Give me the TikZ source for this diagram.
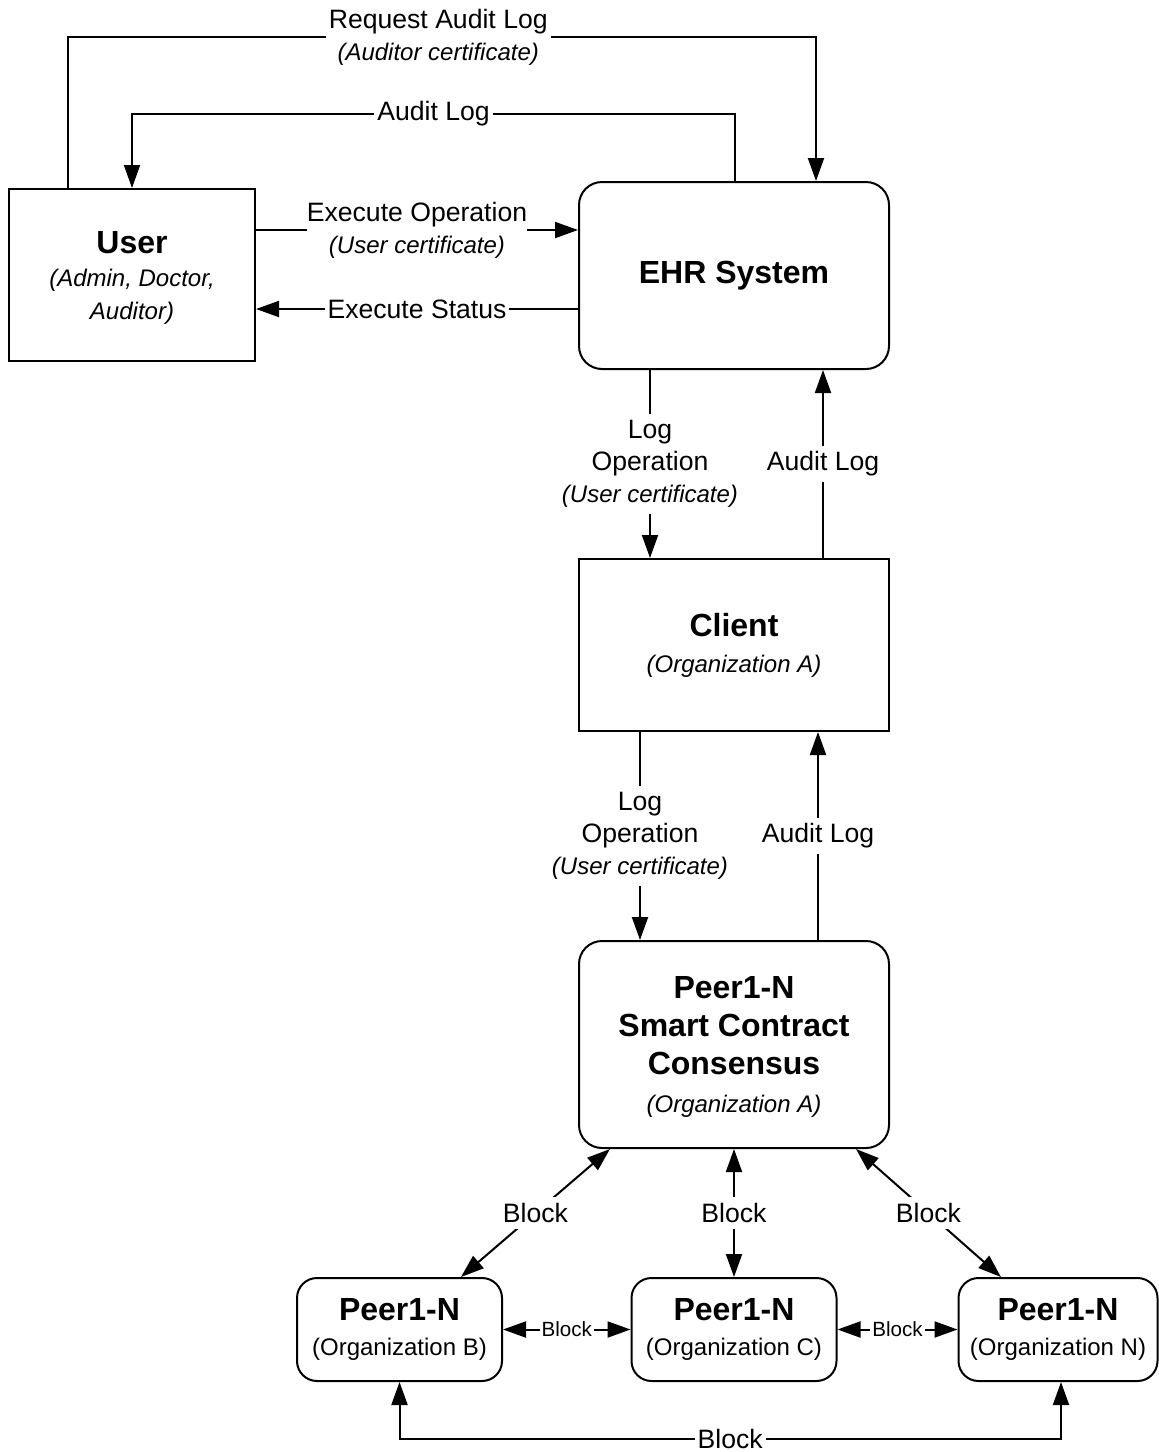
\documentclass[tikz,border=0pt]{standalone}
\usepackage{fontspec}
\setmainfont{Liberation Sans}
\usetikzlibrary{arrows.meta}

% font shortcuts
\newcommand\ttlfont{\fontsize{16}{18.5}\selectfont\bfseries}
\newcommand\subfont{\fontsize{12}{15}\selectfont\itshape}
\newcommand\orgfont{\fontsize{12}{15}\selectfont}
\newcommand\lblfontsz{\fontsize{13.3}{16}\selectfont}

\begin{document}
\begin{tikzpicture}[x=0.5pt,y=-0.5pt,line width=1pt,
  arr/.style={-{Triangle[length=11.5pt,width=8pt]}},
  darr/.style={{Triangle[length=11.5pt,width=8pt]}-{Triangle[length=11.5pt,width=8pt]}},
  box/.style={draw,line width=1pt,align=center,inner sep=0pt,fill=white},
  rbox/.style={box,rounded corners=11.5pt},
  peerbox/.style={box,rounded corners=10pt,minimum width=102.5pt,minimum height=51.5pt,
    font=\fontsize{16}{17.5}\selectfont},
  lbl/.style={fill=white,align=center,inner xsep=1.5pt,inner ysep=3pt,font=\lblfontsz},
  smalllbl/.style={fill=white,inner xsep=1pt,inner ysep=2pt,font=\fontsize{10.3}{12}\selectfont},
]
\useasboundingbox (0,0) rectangle (1159,1452);

% ---- boxes ----
\node[box,minimum width=123pt,minimum height=86pt,font=\fontsize{16}{16.5}\selectfont,text depth=0pt]
  (user) at (132,275) {{\bfseries User}\\{\subfont (Admin, Doctor,}\\{\subfont Auditor)}};
\node[rbox,minimum width=155pt,minimum height=93.5pt,font=\ttlfont]
  (ehr) at (734,275.5) {EHR System};
\node[box,minimum width=155pt,minimum height=86pt,font=\fontsize{16}{18}\selectfont]
  (client) at (734,645) {{\bfseries Client}\\{\subfont (Organization A)}};
\node[rbox,minimum width=155pt,minimum height=103.5pt,font=\fontsize{16}{19}\selectfont,text depth=0pt]
  (pa) at (734,1044.5) {{\bfseries Peer1-N}\\{\bfseries Smart Contract}\\{\bfseries Consensus}\\{\subfont (Organization A)}};
\node[peerbox] (pb) at (399.5,1329.5) {{\bfseries Peer1-N}\\{\orgfont (Organization B)}};
\node[peerbox] (pc) at (734,1329.5) {{\bfseries Peer1-N}\\{\orgfont (Organization C)}};
\node[peerbox,minimum width=99.5pt] (pn) at (1058,1329.5) {{\bfseries Peer1-N}\\{\orgfont (Organization N)}};

% ---- routing points ----
\coordinate (rqa) at (68,37);
\coordinate (rqb) at (816,37);
\coordinate (ala) at (735,114);
\coordinate (alb) at (132,114);
\coordinate (eo) at (0,230);
\coordinate (es) at (0,309);
\coordinate (lo) at (650,0);
\coordinate (au) at (823,0);
\coordinate (lo2) at (640,0);
\coordinate (au2) at (818,0);
\coordinate (d1) at (610,0);
\coordinate (d2) at (461,0);
\coordinate (d3) at (856,0);
\coordinate (d4) at (1001,0);
\coordinate (bb) at (0,1439);
\coordinate (bn) at (1061,0);

% ---- connectors ----
\draw[arr] (user.north -| rqa) -- (rqa) -- node[lbl,pos=0.495]{Request Audit Log\\{\subfont (Auditor certificate)}} (rqb) -- (ehr.north -| rqb);
\draw[arr] (ehr.north -| ala) -- (ala) -- node[lbl,inner ysep=1pt]{Audit Log} (alb) -- (user.north);
\draw[arr] (user.east |- eo) -- node[lbl,inner xsep=0pt]{Execute Operation\\{\subfont (User certificate)}} (ehr.west |- eo);
\draw[arr] (ehr.west |- es) -- node[lbl,inner ysep=1pt]{Execute Status} (user.east |- es);

\draw[arr] (ehr.south -| lo) -- node[lbl]{Log\\Operation\\{\subfont (User certificate)}} (client.north -| lo);
\draw[arr] (client.north -| au) -- node[lbl]{Audit Log} (ehr.south -| au);
\draw[arr] (client.south -| lo2) -- node[lbl]{Log\\Operation\\{\subfont (User certificate)}} (pa.north -| lo2);
\draw[arr] (pa.north -| au2) -- node[lbl]{Audit Log} (client.south -| au2);

\draw[darr] (pa.south -| d1) -- node[lbl]{Block} (pb.north -| d2);
\draw[darr] (pa.south) -- node[lbl]{Block} (pc.north);
\draw[darr] (pa.south -| d3) -- node[lbl]{Block} (pn.north -| d4);

\draw[darr] (pb.east) -- node[smalllbl]{Block} (pc.west);
\draw[darr] (pc.east) -- node[smalllbl]{Block} (pn.west);

\draw[darr] (pb.south) -- (pb.south |- bb) -- node[lbl,inner ysep=1pt]{Block} (bn |- bb) -- (pn.south -| bn);
\end{tikzpicture}
\end{document}
